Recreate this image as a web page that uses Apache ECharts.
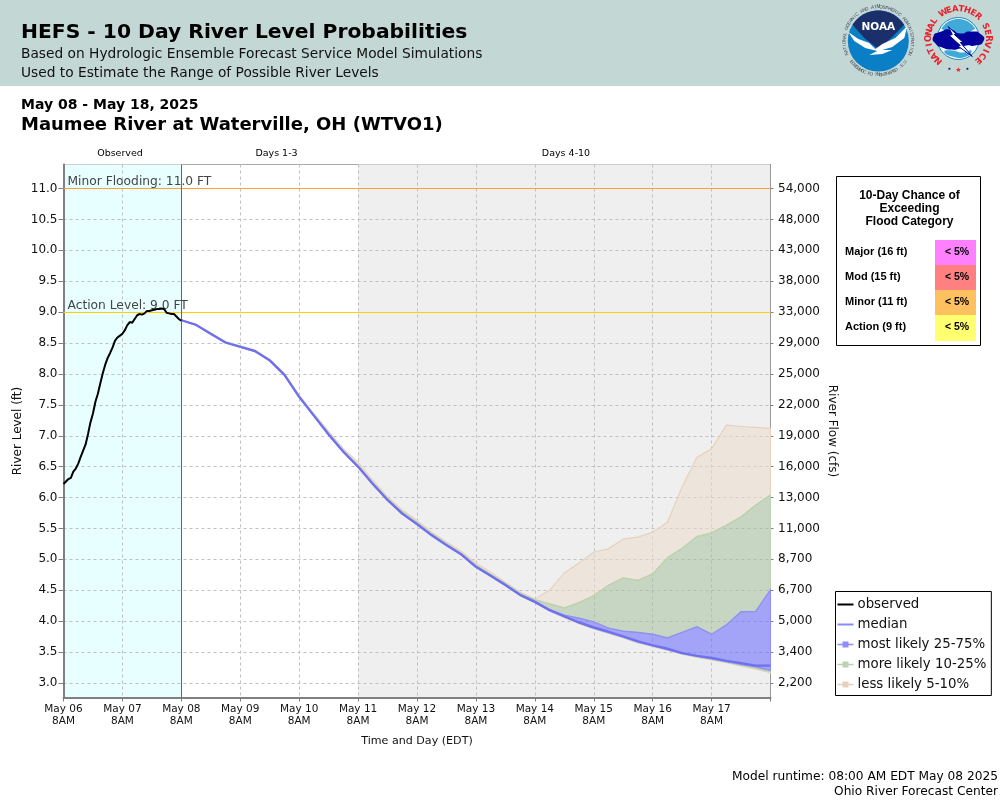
<!DOCTYPE html>
<html><head><meta charset="utf-8">
<style>html,body{margin:0;padding:0;background:#fff}#c{width:1000px;height:800px}</style>
<script src="https://cdn.jsdelivr.net/npm/echarts@6/dist/echarts.min.js"></script>
</head><body><div id="c"></div>
<script>
const levelTicks=[3,3.5,4,4.5,5,5.5,6,6.5,7,7.5,8,8.5,9,9.5,10,10.5,11];
const flowTicks=['2,200','3,400','5,000','6,700','8,700','11,000','13,000','16,000','19,000','22,000','25,000','29,000','33,000','38,000','43,000','48,000','54,000'];
const dayTicks=['May 06','May 07','May 08','May 09','May 10','May 11','May 12','May 13','May 14','May 15','May 16','May 17'];
const observed=[6.22,6.26,6.30,6.32,6.42,6.47,6.55,6.66,6.76,6.86,7.03,7.22,7.36,7.55,7.68,7.85,8.01,8.15,8.26,8.34,8.43,8.54,8.59,8.62,8.65,8.71,8.79,8.84,8.83,8.89,8.95,8.97,8.96,8.98,9.02,9.02,9.03,9.04,9.05,9.05,9.06,9.05,8.99,8.98,8.97,8.97,8.93,8.89,8.86];
const forecastHours=[48,54,60,66,72,78,84,90,96,102,108,114,120,126,132,138,144,150,156,162,168,174,180,186,192,198,204,210,216,222,228,234,240,246,252,258,264,270,276,282,288];
const median=[8.87,8.795,8.65,8.51,8.44,8.37,8.22,7.985,7.63,7.325,7.02,6.74,6.50,6.22,5.96,5.74,5.57,5.39,5.23,5.08,4.88,4.735,4.585,4.425,4.31,4.18,4.08,3.98,3.90,3.83,3.755,3.675,3.61,3.555,3.485,3.44,3.405,3.36,3.32,3.28,3.28];
const p5=[8.87,8.785,8.64,8.50,8.43,8.36,8.21,7.975,7.62,7.315,7.01,6.73,6.49,6.21,5.95,5.73,5.56,5.38,5.22,5.07,4.87,4.725,4.575,4.415,4.30,4.16,4.06,3.96,3.875,3.805,3.73,3.65,3.59,3.53,3.465,3.415,3.375,3.33,3.275,3.225,3.165];
const p10=[8.87,8.787,8.642,8.502,8.432,8.362,8.212,7.977,7.622,7.317,7.012,6.732,6.492,6.212,5.952,5.732,5.562,5.382,5.222,5.072,4.872,4.727,4.577,4.417,4.302,4.165,4.065,3.965,3.88,3.81,3.735,3.655,3.595,3.535,3.47,3.42,3.38,3.335,3.285,3.24,3.18];
const p25=[8.87,8.79,8.645,8.505,8.435,8.365,8.215,7.98,7.625,7.32,7.015,6.735,6.495,6.215,5.955,5.735,5.565,5.385,5.225,5.075,4.875,4.73,4.58,4.42,4.305,4.17,4.07,3.97,3.885,3.815,3.74,3.66,3.60,3.54,3.475,3.43,3.39,3.345,3.30,3.26,3.20];
const p75=[8.87,8.795,8.65,8.51,8.44,8.375,8.225,7.99,7.635,7.33,7.025,6.745,6.51,6.23,5.97,5.75,5.58,5.40,5.24,5.09,4.89,4.745,4.595,4.435,4.33,4.19,4.10,4.05,3.99,3.89,3.84,3.82,3.79,3.73,3.82,3.91,3.79,3.94,4.155,4.16,4.51];
const p90=[8.87,8.80,8.655,8.515,8.45,8.38,8.23,8.00,7.645,7.34,7.04,6.76,6.525,6.245,5.985,5.77,5.60,5.42,5.255,5.10,4.91,4.76,4.61,4.45,4.35,4.28,4.215,4.30,4.415,4.58,4.70,4.66,4.765,5.025,5.18,5.37,5.43,5.55,5.69,5.88,6.04];
const p95=[8.87,8.80,8.66,8.52,8.455,8.39,8.24,8.01,7.66,7.36,7.07,6.79,6.57,6.28,6.01,5.80,5.63,5.44,5.28,5.13,4.94,4.79,4.63,4.47,4.36,4.50,4.78,4.94,5.12,5.17,5.33,5.36,5.44,5.60,6.17,6.65,6.79,7.17,7.15,7.135,7.12];
const floodRows=[['Major (16 ft)','< 5%'],['Mod (15 ft)','< 5%'],['Minor (11 ft)','< 5%'],['Action (9 ft)','< 5%']];

const FONT='"DejaVu Sans"', ARIAL='"Liberation Sans"';
const BLUE='#8f8ff6', BLUEL='rgba(100,100,255,0.55)', GREEN='#b9d4ae', GREENA='rgba(160,190,150,0.5)', TAN='#e6d2bc', TANA='rgba(235,220,200,0.5)';
const pairs=(xs,ys)=>ys.map((y,i)=>[xs[i],y]);
const obsHours=observed.map((_,i)=>i);

// each band series is drawn as one or two closed polygons through the axis scales
function band(name,ranges,line,fill){
  return {name,type:'custom',z:3,silent:true,clip:true,coordinateSystem:'cartesian2d',
    itemStyle:{color:line},encode:{x:0,y:1},
    data:forecastHours.map((h,i)=>[h,ranges[0][1][i]]),
    renderItem(params,api){
      if(params.dataIndex!==0) return null;
      return {type:'group',children:ranges.map(([lo,hi])=>{
        const top=hi.map((v,i)=>api.coord([forecastHours[i],v]));
        const bot=lo.map((v,i)=>api.coord([forecastHours[i],v])).reverse();
        return {type:'polygon',shape:{points:top.concat(bot)},style:{fill,stroke:line,lineWidth:1.2}};
      })};
    }};
}
const series=[
  {name:'bg',type:'line',data:[],z:0,silent:true,symbol:'none',
   markArea:{silent:true,z:0,data:[
     [{xAxis:0,itemStyle:{color:'#e8ffff'}},{xAxis:48}],
     [{xAxis:120,itemStyle:{color:'#efefef'}},{xAxis:288}]]}},
  band('less likely 5-10%',[[p5,p10],[p90,p95]],TAN,TANA),
  band('more likely 10-25%',[[p10,p25],[p75,p90]],GREEN,GREENA),
  band('most likely 25-75%',[[p25,p75]],BLUE,BLUEL),
  {name:'refs',type:'line',data:[],z:4,silent:true,symbol:'none',
   markLine:{silent:true,z:4,symbol:'none',animation:false,data:[
     {yAxis:11,lineStyle:{color:'#ffa033',width:1,type:'solid'},label:{show:true,position:'insideStartTop',formatter:'Minor Flooding: 11.0 FT',color:'#444',fontFamily:FONT,fontSize:12.25,distance:[4,1]}},
     {yAxis:9,lineStyle:{color:'#ffd000',width:1,type:'solid'},label:{show:true,position:'insideStartTop',formatter:'Action Level: 9.0 FT',color:'#444',fontFamily:FONT,fontSize:12.25,distance:[4,0]}},
     {xAxis:48,lineStyle:{color:'#dd3333',width:1,type:'solid'},label:{show:false}}]}},
  {name:'median',type:'line',data:pairs(forecastHours,median),symbol:'none',z:5,silent:true,lineStyle:{color:'#6f6ff2',width:2.2},itemStyle:{color:'#8888ff'}},
  {name:'observed',type:'line',data:pairs(obsHours,observed),symbol:'none',z:6,silent:true,lineStyle:{color:'#000',width:2},itemStyle:{color:'#000'}}
];

const txt=(text,x,y,size,weight,opt)=>({type:'text',x,y,silent:true,z:20,style:Object.assign({text,font:`${weight||'normal'} ${size}px ${FONT}`,fill:'#000',verticalAlign:'middle'},opt||{})});
const arc=(r,a0,a1,n)=>{const p=[];for(let i=0;i<=n;i++){const a=(a0+(a1-a0)*i/n)*Math.PI/180;p.push([r*Math.sin(a),-r*Math.cos(a)]);}return p;};
const shift=(pts,cx,cy)=>pts.map(p=>[p[0]+cx,p[1]+cy]);
function ring(text,cx,cy,r,a0,a1,font,fill,bottom){
  const out=[];const n=text.length;
  for(let i=0;i<n;i++){
    const ang=(n>1?a0+(a1-a0)*i/(n-1):a0);const a=ang*Math.PI/180;
    out.push({type:'text',x:cx+r*Math.sin(a),y:cy-r*Math.cos(a),rotation:bottom?-a+Math.PI:-a,silent:true,z:21,
      style:{text:text[i],font,fill,align:'center',verticalAlign:'middle'}});
  }
  return out;
}
function poly(points,fill,smooth,stroke){return {type:'polygon',silent:true,z:20,shape:{points,smooth:smooth||0},style:{fill,stroke:stroke||null}};}

const NX=878.3,NY=41,WX=958.3,WY=38.5;
const graphics=[
  {type:'rect',silent:true,z:-10,shape:{x:0,y:0,width:1000,height:86},style:{fill:'#c3d7d5'}},
  {type:'circle',silent:true,z:20,shape:{cx:NX,cy:NY,r:30.5},style:{fill:'#0a7fc6'}},
  poly(shift(arc(30.5,-58,58,24).concat([[14,-4],[0,8],[-14,-3]]),NX,NY),'#1b2f6b'),
  poly(shift([[-30,-9],[-20,-2],[-9,2],[-3,8],[4,3],[17,-3],[29,-15],[26,-3],[14,6],[4,9],[14,9],[4,13],[-9,14],[-1,10],[-13,7],[-24,0]],NX,NY),'#fff'),
  txt('NOAA',NX,NY-14,10.5,'bold',{fill:'#fff',align:'center'}),
  ...ring('NATIONAL OCEANIC AND ATMOSPHERIC ADMINISTRATION',NX,NY,34,-112,112,`4.6px ${ARIAL}`,'#445'),
  ...ring('U.S. DEPARTMENT OF COMMERCE',NX,NY,34,128,232,`4.6px ${ARIAL}`,'#445',true),
  {type:'circle',silent:true,z:20,shape:{cx:WX,cy:WY,r:21},style:{fill:'#f2fbfd',stroke:'#1c86c0',lineWidth:1}},
  poly(shift(arc(19.5,-60,60,20).concat([[0,0]]),WX,WY),'#3fa9d8'),
  poly(shift([[-14,13],[-6,12],[4,14],[13,12],[8,18],[-6,18]],WX,WY),'#3fa9d8',0.6),
  poly(shift([[-25,-2],[-17,-7],[-8,-9],[2,-5],[12,-7],[23,-4],[25,3],[17,7],[8,7],[2,10],[-8,11],[-16,9],[-22,6]],WX,WY),'#04049c',0.7),
  poly(shift([[-10,-12],[-2,-4],[-4,-4],[5,4],[2,4],[14,18],[-1,7],[2,7],[-9,-3],[-6,-4]],WX,WY),'#fff',0,'#04049c'),
  ...ring('NATIONAL WEATHER SERVICE',WX,WY,29.5,-138,138,`bold 8.5px ${FONT}`,'#e8202a'),
  txt('•',WX-9,WY+31,6,'bold',{fill:'#16169c',align:'center'}),
  txt('★',WX,WY+32,7,'bold',{fill:'#e8202a',align:'center'}),
  txt('•',WX+9,WY+31,6,'bold',{fill:'#16169c',align:'center'}),
  txt('HEFS - 10 Day River Level Probabilities',21,33,20.3,'bold'),
  txt('Based on Hydrologic Ensemble Forecast Service Model Simulations',21,54,13.75,'normal',{fill:'#111'}),
  txt('Used to Estimate the Range of Possible River Levels',21,73,13.75,'normal',{fill:'#111'}),
  txt('May 08 - May 18, 2025',21,105,14,'bold'),
  txt('Maumee River at Waterville, OH (WTVO1)',21,125.5,18,'bold'),
  txt('Observed',120,154,9.5,'normal',{align:'center'}),
  txt('Days 1-3',276.5,154,9.5,'normal',{align:'center'}),
  txt('Days 4-10',566,154,9.5,'normal',{align:'center'}),
  txt('Model runtime: 08:00 AM EDT May 08 2025',998,776.5,12.2,'normal',{align:'right'}),
  txt('Ohio River Forecast Center',998,791.5,12.2,'normal',{align:'right'}),
  {type:'rect',silent:true,z:19,shape:{x:836.5,y:176.5,width:144,height:169},style:{fill:'#fff',stroke:'#000',lineWidth:1}}
];
const F2=`bold 12px ${ARIAL}`,F3=`bold 11px ${ARIAL}`;
['10-Day Chance of','Exceeding','Flood Category'].forEach((t,i)=>graphics.push({type:'text',silent:true,z:21,x:909.5,y:195.5+i*13,style:{text:t,font:F2,fill:'#000',align:'center',verticalAlign:'middle'}}));
const cellColors=['#ff80ff','#ff8080','#ffc060','#ffff70'];
floodRows.forEach((r,i)=>{
  graphics.push({type:'rect',silent:true,z:20,shape:{x:935,y:240+i*25,width:41,height:i==3?26:25},style:{fill:cellColors[i]}});
  graphics.push({type:'text',silent:true,z:21,x:845,y:251.5+i*25,style:{text:r[0],font:F3,fill:'#000',verticalAlign:'middle'}});
  graphics.push({type:'text',silent:true,z:21,x:957,y:252+i*25,style:{text:r[1],font:`bold 10.5px ${ARIAL}`,fill:'#000',align:'center',verticalAlign:'middle'}});
});

const LINE_ICON='path://M0 5H16V7H0Z', BAND_ICON='path://M0 2.2H5V0H11V2.2H16V3.8H11V6H5V3.8H0Z';
const GRID_LINE={color:'#c0c0c0',type:[3,3],width:1};
const chart=echarts.init(document.getElementById('c'),null,{renderer:'canvas'});
chart.setOption({
  animation:false,backgroundColor:'#fff',
  grid:{left:63.5,top:164.5,width:707,height:533,show:true,borderColor:'#aaa',borderWidth:1,backgroundColor:'transparent',containLabel:false,outerBoundsMode:'none'},
  graphic:graphics,
  legend:{orient:'vertical',left:835.5,top:591.5,padding:[5,5,3,2],itemGap:4,itemWidth:16,itemHeight:8,borderColor:'#000',borderWidth:1,backgroundColor:'#fff',selectedMode:false,z:15,
    textStyle:{fontFamily:FONT,fontSize:13.33,color:'#111',lineHeight:16,padding:[0,0,0,-1]},
    data:[
      {name:'observed',icon:LINE_ICON,itemStyle:{color:'#000'}},
      {name:'median',icon:LINE_ICON,itemStyle:{color:'#8888ff'}},
      {name:'most likely 25-75%',icon:BAND_ICON,itemStyle:{color:BLUE}},
      {name:'more likely 10-25%',icon:BAND_ICON,itemStyle:{color:GREEN}},
      {name:'less likely 5-10%',icon:BAND_ICON,itemStyle:{color:TAN}}]},
  xAxis:{type:'value',min:0,max:288,interval:24,z:2,
    name:'Time and Day (EDT)',nameLocation:'middle',nameGap:38,nameTextStyle:{fontFamily:FONT,fontSize:11.1,color:'#111'},
    axisLine:{show:true,onZero:false,lineStyle:{color:'#808080',width:2}},
    axisTick:{show:true,length:4,lineStyle:{color:'#808080'}},
    axisLabel:{fontFamily:FONT,fontSize:10.5,color:'#111',lineHeight:12,margin:6,hideOverlap:false,
      formatter:v=>{const d=dayTicks[v/24];return d?d+'\n8AM':'';}},
    splitLine:{show:true,lineStyle:GRID_LINE}},
  yAxis:[
    {type:'value',min:2.765,max:11.389,z:2,name:'River Level (ft)',nameLocation:'middle',nameGap:39.5,nameRotate:90,nameMoveOverlap:false,
     nameTextStyle:{fontFamily:FONT,fontSize:12,color:'#111'},
     axisLine:{show:true,lineStyle:{color:'#808080',width:2}},
     axisTick:{show:true,length:5,customValues:levelTicks,lineStyle:{color:'#808080'}},
     axisLabel:{fontFamily:FONT,fontSize:12,color:'#111',margin:6,padding:[2,0,0,0],customValues:levelTicks,formatter:v=>v.toFixed(1)},
     splitLine:{show:true,lineStyle:GRID_LINE}},
    {type:'value',position:'right',min:2.765,max:11.389,z:2,name:'River Flow (cfs)',nameLocation:'middle',nameGap:55.5,nameRotate:-90,nameMoveOverlap:false,
     nameTextStyle:{fontFamily:FONT,fontSize:12,color:'#111'},
     axisLine:{show:true,lineStyle:{color:'#999',width:1}},
     axisTick:{show:true,length:3,customValues:levelTicks,lineStyle:{color:'#808080'}},
     axisLabel:{fontFamily:FONT,fontSize:12,color:'#111',margin:7.5,padding:[2,0,0,0],customValues:levelTicks,formatter:v=>flowTicks[levelTicks.indexOf(v)]},
     splitLine:{show:false}}],
  series
});
</script></body></html>
